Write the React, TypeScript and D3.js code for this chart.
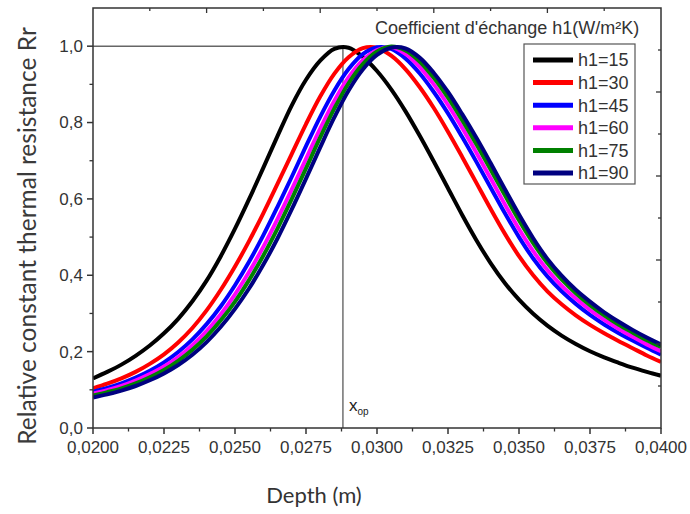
import React from "react";
import * as d3 from "d3";

const depth = [
  0.0200, 0.0205, 0.0210, 0.0215, 0.0220, 0.0225, 0.0230, 0.0235, 0.0240, 0.0245,
  0.0250, 0.0255, 0.0260, 0.0265, 0.0270, 0.0275, 0.0280, 0.0285, 0.0290, 0.0295,
  0.0300, 0.0305, 0.0310, 0.0315, 0.0320, 0.0325, 0.0330, 0.0335, 0.0340, 0.0345,
  0.0350, 0.0355, 0.0360, 0.0365, 0.0370, 0.0375, 0.0380, 0.0385, 0.0390, 0.0395,
  0.0400,
];

const h15 = [0.130,0.147,0.166,0.189,0.216,0.248,0.286,0.332,0.386,0.450,0.522,0.600,0.682,0.765,0.845,0.912,0.962,0.993,0.996,0.972,0.935,0.887,0.830,0.766,0.698,0.628,0.558,0.492,0.432,0.380,0.336,0.299,0.268,0.242,0.220,0.201,0.185,0.171,0.158,0.147,0.137];
const h30 = [0.104,0.116,0.130,0.147,0.168,0.193,0.224,0.262,0.308,0.362,0.423,0.490,0.563,0.640,0.718,0.796,0.868,0.928,0.971,0.995,0.996,0.975,0.940,0.893,0.838,0.776,0.710,0.642,0.574,0.509,0.450,0.400,0.358,0.324,0.295,0.270,0.248,0.228,0.209,0.190,0.173];
const h45 = [0.095,0.105,0.117,0.132,0.150,0.172,0.199,0.232,0.272,0.319,0.374,0.436,0.505,0.580,0.658,0.738,0.815,0.884,0.940,0.979,0.997,0.993,0.968,0.929,0.880,0.824,0.762,0.697,0.630,0.563,0.500,0.444,0.397,0.358,0.325,0.296,0.271,0.249,0.229,0.210,0.192];
const h60 = [0.090,0.099,0.110,0.124,0.141,0.161,0.186,0.217,0.254,0.298,0.350,0.409,0.475,0.548,0.625,0.705,0.784,0.857,0.918,0.963,0.990,0.997,0.980,0.946,0.900,0.846,0.786,0.721,0.654,0.586,0.521,0.463,0.414,0.373,0.339,0.309,0.283,0.260,0.239,0.219,0.201];
const h75 = [0.085,0.094,0.104,0.117,0.133,0.152,0.176,0.205,0.240,0.282,0.331,0.388,0.452,0.523,0.600,0.680,0.761,0.837,0.903,0.953,0.986,0.999,0.989,0.960,0.917,0.865,0.806,0.743,0.677,0.610,0.544,0.484,0.432,0.389,0.353,0.322,0.295,0.271,0.250,0.230,0.212];
const h90 = [0.080,0.088,0.098,0.110,0.125,0.143,0.165,0.192,0.225,0.265,0.312,0.366,0.428,0.497,0.573,0.653,0.735,0.814,0.884,0.939,0.977,0.996,0.994,0.970,0.930,0.880,0.822,0.760,0.694,0.626,0.559,0.497,0.443,0.399,0.362,0.331,0.303,0.279,0.257,0.237,0.219];

const seriesNames = ["h1=15", "h1=30", "h1=45", "h1=60", "h1=75", "h1=90"];
const seriesValues = [h15, h30, h45, h60, h75, h90];
const seriesColors = ["#000000", "#ff0000", "#0000ff", "#ff00ff", "#008000", "#000080"];

const xTicks = [0.02, 0.0225, 0.025, 0.0275, 0.03, 0.0325, 0.035, 0.0375, 0.04];
const yTicks = [0, 0.2, 0.4, 0.6, 0.8, 1.0];
const xOp = 0.0288;

const W = 690, H = 514;
const L = 93, R = 661, T = 8, B = 428;

export default function App() {
  const x = d3.scaleLinear().domain([0.02, 0.04]).range([L, R]);
  const y = d3.scaleLinear().domain([0, 1.1]).range([B, T]);
  const topS = d3.scaleLinear().domain([0, 1]).range([L, R]);
  const rightS = d3.scaleLinear().domain([0, 1]).range([B, T]);

  const line = d3
    .line<number>()
    .x((_, i) => x(depth[i]))
    .y((v) => y(v))
    .curve(d3.curveCatmullRom.alpha(0.5));

  const xMinor = xTicks.slice(1).map((t, i) => (t + xTicks[i]) / 2);
  const yMinor = yTicks.slice(1).map((t, i) => (t + yTicks[i]) / 2);
  const fmtX = (v: number) => d3.format(".4f")(v).replace(".", ",");
  const fmtY = (v: number) => d3.format(".1f")(v).replace(".", ",");
  const auxTicks = d3.range(1, 10).map((i) => i / 10);

  const axisColor = "#333";
  const tickFont = "'Liberation Sans', Arial, sans-serif";

  const legX = 524, legY = 44, legW = 111, legH = 140, rowH = 22.6;

  return (
    <svg width={W} height={H} style={{ position: "absolute", left: 0, top: 0, background: "#fff" }}>
      <rect x={0} y={0} width={W} height={H} fill="#fff" />
      <defs>
        <clipPath id="plotclip">
          <rect x={L} y={T} width={R - L} height={B - T} />
        </clipPath>
      </defs>

      {/* x_op guide lines */}
      <line x1={x(0.02)} x2={x(xOp)} y1={y(1)} y2={y(1)} stroke="#666" strokeWidth={1.4} />
      <line x1={x(xOp)} x2={x(xOp)} y1={y(1)} y2={B} stroke="#666" strokeWidth={1.4} />

      {/* curves */}
      <g clipPath="url(#plotclip)">
        {seriesValues.map((vals, k) => (
          <path key={k} d={line(vals) || ""} fill="none" stroke={seriesColors[k]} strokeWidth={4} strokeLinejoin="round" />
        ))}
      </g>

      {/* frame */}
      <rect x={L} y={T} width={R - L} height={B - T} fill="none" stroke={axisColor} strokeWidth={1.5} />

      {/* bottom ticks */}
      {xTicks.map((t) => (
        <g key={"xt" + t}>
          <line x1={x(t)} x2={x(t)} y1={B} y2={B + 6} stroke={axisColor} strokeWidth={1.5} />
          <text x={x(t)} y={B + 25} textAnchor="middle" fontFamily={tickFont} fontSize={17} fill="#333">
            {fmtX(t)}
          </text>
        </g>
      ))}
      {xMinor.map((t) => (
        <line key={"xm" + t} x1={x(t)} x2={x(t)} y1={B} y2={B + 3.5} stroke={axisColor} strokeWidth={1.3} />
      ))}

      {/* left ticks */}
      {yTicks.map((t) => (
        <g key={"yt" + t}>
          <line x1={L - 6} x2={L} y1={y(t)} y2={y(t)} stroke={axisColor} strokeWidth={1.5} />
          <text x={L - 10} y={y(t)} dy="0.35em" textAnchor="end" fontFamily={tickFont} fontSize={17} fill="#333">
            {fmtY(t)}
          </text>
        </g>
      ))}
      {yMinor.map((t) => (
        <line key={"ym" + t} x1={L - 3.5} x2={L} y1={y(t)} y2={y(t)} stroke={axisColor} strokeWidth={1.3} />
      ))}

      {/* top ticks (inward) */}
      {auxTicks.map((t, i) => (
        <line key={"tt" + i} x1={topS(t)} x2={topS(t)} y1={T} y2={T + (i % 2 === 1 ? 5 : 3)} stroke={axisColor} strokeWidth={1.3} />
      ))}
      {/* right ticks (inward) */}
      {auxTicks.map((t, i) => (
        <line key={"rt" + i} x1={R} x2={R - (i % 2 === 1 ? 5 : 3)} y1={rightS(t)} y2={rightS(t)} stroke={axisColor} strokeWidth={1.3} />
      ))}

      {/* x_op label */}
      <text x={x(xOp) + 6} y={411} fontFamily={tickFont} fontSize={17} fill="#222">
        x
        <tspan dx={0} dy={4} fontSize={10}>op</tspan>
      </text>

      {/* title of legend */}
      <text x={375} y={34} fontFamily={tickFont} fontSize={18} fill="#333">
        Coefficient d'échange h1(W/m²K)
      </text>

      {/* legend */}
      <rect x={legX} y={legY} width={legW} height={legH} fill="#fff" stroke="#555" strokeWidth={1.2} />
      {seriesNames.map((name, k) => {
        const cy = legY + 16 + k * rowH;
        return (
          <g key={name}>
            <line x1={legX + 9} x2={legX + 49} y1={cy} y2={cy} stroke={seriesColors[k]} strokeWidth={5} />
            <text x={legX + 54} y={cy} dy="0.36em" fontFamily={tickFont} fontSize={18} fill="#333">
              {name}
            </text>
          </g>
        );
      })}

      {/* axis titles */}
      <text x={314} y={503} textAnchor="middle" fontFamily="Lato, 'Open Sans', sans-serif" fontSize={22} fill="#333">
        Depth (m)
      </text>
      <text
        transform={`translate(36, ${236}) rotate(-90)`}
        textAnchor="middle"
        fontFamily="Lato, 'Open Sans', sans-serif"
        fontSize={24.5}
        fill="#3a3a3a"
      >
        Relative constant thermal resistance Rr
      </text>
    </svg>
  );
}
